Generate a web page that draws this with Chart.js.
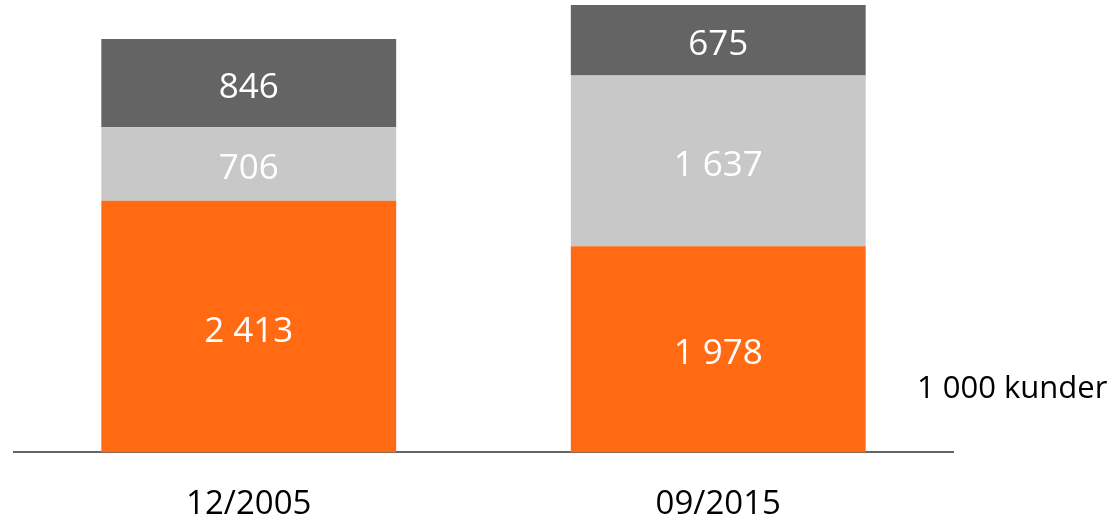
<!DOCTYPE html>
<html>
<head>
<meta charset="utf-8">
<script src="https://cdn.jsdelivr.net/npm/chart.js@4"></script>
<style>
  html, body { margin: 0; padding: 0; background: #fff; }
  #wrap { width: 1118px; height: 520px; }
</style>
</head>
<body>
<div id="wrap"><canvas id="chart" width="1118" height="520"></canvas></div>
<script>
// Data (1 000 customers)
const categories = ['12/2005', '09/2015'];
const bottomValues = [2413, 1978];
const middleValues = [706, 1637];
const topValues = [846, 675];
const unitLabel = '1 000 kunder';

const fontFamily = '"Open Sans", "Noto Sans", sans-serif';

function fmt(v) {
  return String(v).replace(/\B(?=(\d{3})+(?!\d))/g, ' ');
}

// draws the value in the middle of every bar segment
const segmentLabels = {
  id: 'segmentLabels',
  afterDatasetsDraw(chart) {
    const ctx = chart.ctx;
    ctx.save();
    ctx.font = '35px ' + fontFamily;
    ctx.fillStyle = '#ffffff';
    ctx.textAlign = 'center';
    ctx.textBaseline = 'middle';
    chart.data.datasets.forEach((ds, i) => {
      chart.getDatasetMeta(i).data.forEach((bar, j) => {
        const p = bar.getProps(['x', 'y', 'base'], true);
        ctx.fillText(fmt(ds.data[j]), p.x, (p.y + p.base) / 2 + 5);
      });
    });
    ctx.restore();
  }
};

// unit text on the right
const unitText = {
  id: 'unitText',
  afterDraw(chart) {
    const ctx = chart.ctx;
    ctx.save();
    ctx.font = '31px ' + fontFamily;
    ctx.fillStyle = '#000000';
    ctx.textAlign = 'left';
    ctx.textBaseline = 'middle';
    ctx.fillText(unitLabel, 917, 389);
    ctx.restore();
  }
};

const ctx = document.getElementById('chart').getContext('2d');
new Chart(ctx, {
  type: 'bar',
  data: {
    labels: categories,
    datasets: [
      { label: 'bottom', data: bottomValues, backgroundColor: '#ff6a13' },
      { label: 'middle', data: middleValues, backgroundColor: '#c8c8c8' },
      { label: 'top', data: topValues, backgroundColor: '#646464' }
    ]
  },
  options: {
    responsive: false,
    animation: false,
    layout: { padding: { left: 14, right: 165, top: 4, bottom: -36 } },
    datasets: {
      bar: { categoryPercentage: 1, barPercentage: 0.628, borderWidth: 0 }
    },
    scales: {
      x: {
        stacked: true,
        grid: { display: false, drawTicks: false },
        border: { display: true, color: '#666666', width: 2 },
        ticks: {
          color: '#000000',
          font: { family: fontFamily, size: 33 },
          padding: 32
        }
      },
      y: {
        stacked: true,
        display: false,
        min: 0,
        max: 4300
      }
    },
    plugins: {
      legend: { display: false },
      tooltip: { enabled: false }
    }
  },
  plugins: [segmentLabels, unitText]
});
</script>
</body>
</html>
